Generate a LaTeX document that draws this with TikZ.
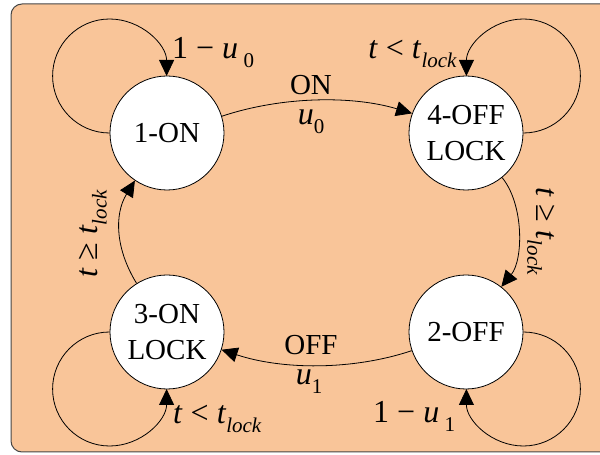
\documentclass[tikz,border=0pt]{standalone}
\usepackage{fontspec}
\setmainfont{Liberation Serif}
\usetikzlibrary{arrows.meta}
\definecolor{bgorange}{RGB}{249,197,153}
\definecolor{bordergray}{RGB}{70,70,70}
\newcommand{\subsc}[1]{\raisebox{-0.28em}{\fontsize{21}{21}\selectfont #1}}
\tikzset{
  state/.style={circle, draw=black, line width=0.8pt, fill=white, minimum size=114pt, inner sep=0pt,
    align=center, font=\fontsize{29}{36}\selectfont},
  trans/.style={draw=black, line width=0.8pt, -{Triangle[length=16pt,width=15pt]}},
  lab/.style={font=\fontsize{32}{36}\selectfont, inner sep=0pt},
  edgelab/.style={font=\fontsize{29}{34}\selectfont, inner sep=0pt}
}
\begin{document}
\begin{tikzpicture}[x=1pt,y=1pt]
\useasboundingbox (0,0) rectangle (600,455);
\clip (0,0) rectangle (600,455);
\draw[fill=bgorange, draw=bordergray, line width=1pt, rounded corners=11pt] (11,3) rectangle (625,451);

\node[state] (n1) at (167,322) {1-ON};
\node[state] (n4) at (466,322) {4-OFF\\LOCK};
\node[state] (n3) at (167,123) {3-ON\\LOCK};
\node[state] (n2) at (466,123) {2-OFF};

% self loops
\draw[trans] (n1.west) arc[start angle=270, end angle=0, radius=57];
\draw[trans] (n4.east) arc[start angle=-90, end angle=180, radius=57];
\draw[trans] (n3.west) arc[start angle=90, end angle=360, radius=57];
\draw[trans] (n2.east) arc[start angle=90, end angle=-180, radius=57];

% transitions
\draw[trans] (n1.17) .. controls +(60,20) and +(-60,18) .. (n4.160);
\draw[trans] (n4.309) .. controls +(22,-27) and +(22,27) .. (n2.52);
\draw[trans] (n2.199) .. controls +(-60,-20) and +(60,-20) .. (n3.-18);
\draw[trans] (n3.122) .. controls +(-21,34) and +(-21,-34) .. (n1.236);

% loop labels
\node[lab, anchor=base west] (l1) at (172,396) {1 − \textit{u}\,\subsc{0}};
\node[lab, anchor=base east] (l4) at (457,396) {\textit{t} < \textit{t}\subsc{\textit{lock}}};
\node[lab, anchor=base west] (l3) at (173,31) {\textit{t} < \textit{t}\subsc{\textit{lock}}};
\node[lab, anchor=base west] (l2) at (373,32) {1 − \textit{u}\,\subsc{1}};

% edge labels
\node[edgelab, anchor=base] (on) at (311,360) {ON};
\node[lab, anchor=base] (u0) at (311,330) {\textit{u}\subsc{0}};
\node[edgelab, anchor=base] (off) at (311,100) {OFF};
\node[lab, anchor=base] (u1) at (309,70) {\textit{u}\subsc{1}};

\node[lab, rotate=90] (lt) at (93,221) {\textit{t} ≥ \textit{t}\subsc{\textit{lock}}};
\node[lab, rotate=-90] (rt) at (541,224) {\textit{t} ≥ \textit{t}\subsc{\textit{lock}}};
\end{tikzpicture}
\end{document}
